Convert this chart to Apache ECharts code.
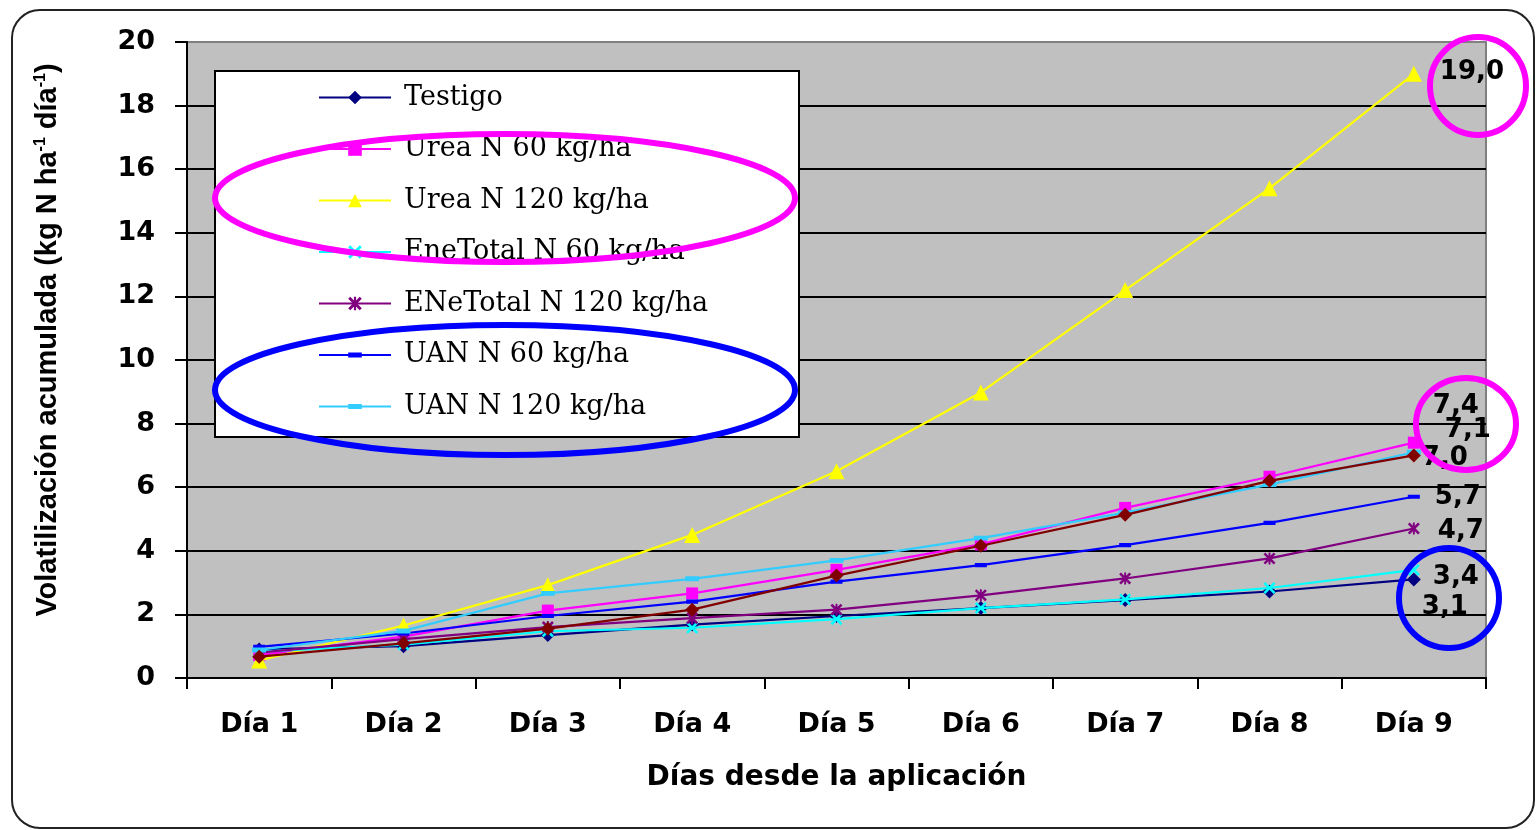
<!DOCTYPE html>
<html>
<head>
<meta charset="utf-8">
<script src="https://cdn.jsdelivr.net/npm/echarts@6/dist/echarts.min.js"></script>
<style>
html,body{margin:0;padding:0;background:#ffffff;}
#chart{width:1536px;height:830px;}
</style>
</head>
<body>
<div id="chart"></div>
<script>
// ---- data ----
const categories = ['Día 1','Día 2','Día 3','Día 4','Día 5','Día 6','Día 7','Día 8','Día 9'];
const seriesNames = ['Testigo','Urea N 60 kg/ha','Urea N 120 kg/ha','EneTotal N 60 kg/ha','ENeTotal N 120 kg/ha','UAN N 60 kg/ha','UAN N 120 kg/ha','Serie 8'];
const testigo      = [0.90, 1.00, 1.35, 1.68, 1.95, 2.20, 2.45, 2.72, 3.10];
const urea60       = [0.72, 1.30, 2.12, 2.66, 3.40, 4.20, 5.35, 6.33, 7.40];
const urea120      = [0.55, 1.65, 2.92, 4.50, 6.50, 8.98, 12.20, 15.40, 19.00];
const eneTotal60   = [0.83, 1.05, 1.47, 1.58, 1.85, 2.20, 2.47, 2.83, 3.40];
const eneTotal120  = [0.80, 1.22, 1.60, 1.88, 2.15, 2.60, 3.13, 3.76, 4.70];
const uan60        = [0.98, 1.40, 1.95, 2.40, 3.03, 3.55, 4.18, 4.88, 5.70];
const uan120       = [0.88, 1.48, 2.66, 3.12, 3.70, 4.40, 5.20, 6.08, 7.10];
const serie8       = [0.67, 1.09, 1.55, 2.15, 3.22, 4.16, 5.13, 6.20, 7.00];
const yMin = 0, yMax = 20, yStep = 2;

// ---- styles ----
const xPath = 'path://M0,1.5 L1.5,0 L5,3.5 L8.5,0 L10,1.5 L6.5,5 L10,8.5 L8.5,10 L5,6.5 L1.5,10 L0,8.5 L3.5,5 Z';
const starPath = xPath + ' M4.2,0 L5.8,0 L5.8,10 L4.2,10 Z';
const dashPath = 'path://M0,-3.25 L0.01,-3.25 L0,-3.24 Z M0,6.75 L0.01,6.75 L0,6.74 Z M0,0 L10,0 L10,3.5 L0,3.5 Z';
const styles = [
  {color:'#000080', symbol:'diamond', size:14, off:[1,28]},
  {color:'#FF00FF', symbol:'rect', size:12, off:[13,-36]},
  {color:'#FFFF00', symbol:'triangle', size:16, off:[18,-2]},
  {color:'#00FFFF', symbol:xPath, size:12, off:[13,7]},
  {color:'#800080', symbol:starPath, size:12, off:[18,3]},
  {color:'#0000FF', symbol:dashPath, size:12, off:[15,1]},
  {color:'#33CCFF', symbol:dashPath, size:14, off:[24,-22]},
  {color:'#800000', symbol:'diamond', size:14, off:[1,3]}
];
const allData = [testigo, urea60, urea120, eneTotal60, eneTotal120, uan60, uan120, serie8];

const fmt = v => v.toFixed(1).replace('.', ',');

const series = allData.map((arr, k) => {
  const st = styles[k];
  return {
    name: seriesNames[k],
    type: 'line',
    data: arr.map((v, i) => i === arr.length - 1 ? {
      value: v,
      label: {
        show: true, position: 'right', distance: 0, offset: st.off,
        formatter: p => fmt(p.value),
        fontFamily: 'DejaVu Sans', fontWeight: 'bold', fontSize: 26, color: '#000'
      }
    } : v),
    symbol: st.symbol,
    symbolSize: st.size,
    symbolKeepAspect: true,
    showAllSymbol: true,
    color: st.color,
    lineStyle: {color: st.color, width: 2.2},
    itemStyle: {color: st.color},
    emphasis: {disabled: true},
    animation: false,
    z: 2 + k * 0.01
  };
});

const chart = echarts.init(document.getElementById('chart'), null, {renderer: 'canvas'});
chart.setOption({
  backgroundColor: '#ffffff',
  animation: false,
  grid: {
    left: 187, right: 50, top: 42, bottom: 152,
    show: true, backgroundColor: '#C0C0C0', borderColor: '#808080', borderWidth: 2
  },
  legend: {
    data: seriesNames.slice(0, 7),
    orient: 'vertical',
    left: 318, top: 84,
    padding: 0,
    itemGap: 24.5,
    itemWidth: 72, itemHeight: 17,
    symbolKeepAspect: true,
    textStyle: {fontFamily: 'DejaVu Serif', fontSize: 27, color: '#000', lineHeight: 27, padding: [0,0,0,8]},
    selectedMode: false
  },
  xAxis: {
    type: 'category',
    data: categories,
    boundaryGap: true,
    axisLine: {lineStyle: {color: '#000', width: 2}},
    axisTick: {show: true, length: 11, lineStyle: {color: '#000', width: 2}},
    axisLabel: {margin: 33, fontFamily: 'DejaVu Sans', fontWeight: 'bold', fontSize: 27, color: '#000'},
    name: 'Días desde la aplicación',
    nameLocation: 'middle',
    nameGap: 86,
    nameTextStyle: {fontFamily: 'DejaVu Sans', fontWeight: 'bold', fontSize: 28, color: '#000'}
  },
  yAxis: {
    type: 'value',
    min: yMin, max: yMax, interval: yStep,
    axisLine: {show: true, lineStyle: {color: '#000', width: 2}},
    axisTick: {show: true, length: 12, lineStyle: {color: '#000', width: 2}},
    axisLabel: {margin: 32, fontFamily: 'DejaVu Sans', fontWeight: 'bold', fontSize: 27, color: '#000'},
    splitLine: {show: true, showMaxLine: false, lineStyle: {color: '#000', width: 2}},
    name: 'Volatilización acumulada (kg N ha{sup|-1} día{sup|-1})',
    nameLocation: 'middle',
    nameGap: 125,
    nameTextStyle: {
      fontFamily: 'Liberation Sans', fontWeight: 'bold', fontSize: 29, color: '#000',
      padding: [0,0,0,40],
      rich: {sup: {fontFamily: 'Liberation Sans', fontWeight: 'bold', fontSize: 16, verticalAlign: 'top', lineHeight: 29, padding: [0,0,14,0]}}
    }
  },
  graphic: [
    {type: 'rect', z: 3, shape: {x: 215, y: 71, width: 584, height: 366},
     style: {fill: '#ffffff', stroke: '#000000', lineWidth: 2}},
    {type: 'rect', z: 0, shape: {x: 12, y: 10, width: 1522, height: 818, r: 28},
     style: {fill: 'none', stroke: '#222222', lineWidth: 2}},
    {type: 'ellipse', z: 100, shape: {cx: 505, cy: 198, rx: 290, ry: 64},
     style: {fill: 'none', stroke: '#FF00FF', lineWidth: 6}},
    {type: 'ellipse', z: 100, shape: {cx: 505, cy: 390, rx: 290, ry: 65},
     style: {fill: 'none', stroke: '#0000FF', lineWidth: 6}},
    {type: 'ellipse', z: 100, shape: {cx: 1478, cy: 86, rx: 48, ry: 49},
     style: {fill: 'none', stroke: '#FF00FF', lineWidth: 6}},
    {type: 'ellipse', z: 100, shape: {cx: 1466, cy: 424, rx: 50, ry: 46},
     style: {fill: 'none', stroke: '#FF00FF', lineWidth: 6}},
    {type: 'ellipse', z: 100, shape: {cx: 1449, cy: 598, rx: 50, ry: 50},
     style: {fill: 'none', stroke: '#0000FF', lineWidth: 6}}
  ],
  series: series
});
</script>
</body>
</html>
